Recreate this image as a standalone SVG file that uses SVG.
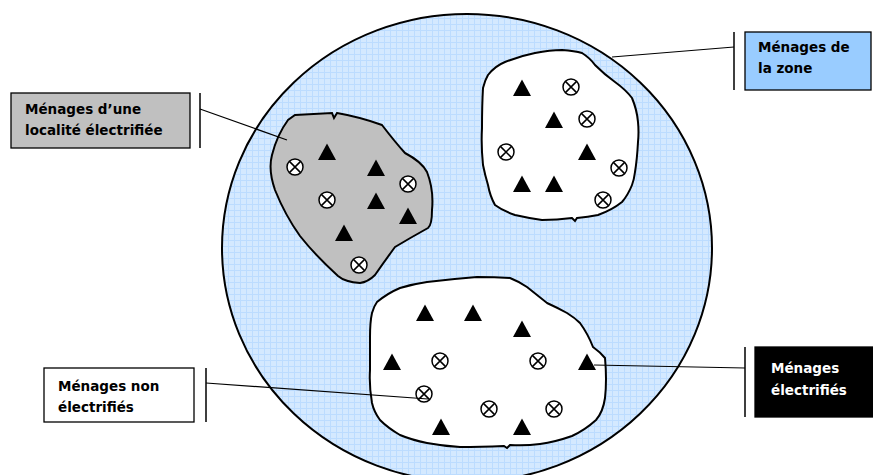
<svg xmlns="http://www.w3.org/2000/svg" width="873" height="475" viewBox="0 0 873 475">
<style>
.lbl{font-family:"DejaVu Sans","Liberation Sans",sans-serif;font-weight:bold;font-size:13.5px}
.blob{stroke:#000;stroke-width:2}
.bar{stroke:#000;stroke-width:1.5}
.lead{stroke:#000;stroke-width:1.2;fill:none}
.box{stroke:#000;stroke-width:1.3}
</style>
<defs>
<pattern id="grid" width="6" height="6" patternUnits="userSpaceOnUse">
<rect width="6" height="6" fill="#d4e9ff"/>
<path d="M0,0.5H6M0.5,0V6" stroke="#bcdcff" stroke-width="1"/>
</pattern>
<path id="tri" d="M0,-8.5L9,8L-9,8Z" fill="#000"/>
<g id="xc">
<circle r="8" fill="#fff" stroke="#000" stroke-width="1.5"/>
<path d="M-5.6,-5.6L5.6,5.6M5.6,-5.6L-5.6,5.6" stroke="#000" stroke-width="1.5"/>
</g>
</defs>
<rect width="873" height="475" fill="#fff"/>
<g id="zone">
<ellipse cx="467" cy="248" rx="245" ry="234" fill="url(#grid)" stroke="#000" stroke-width="2"/>
</g>
<g id="localite">
<path class="blob" fill="#c0c0c0" d="M295,115 L332,113 L334,118 L337,113 Q360,117 382,125 Q395,142 405,153 Q422,162 427,172 Q434,190 432,210 Q432,225 428,228 Q410,238 395,247 Q384,262 375,275 Q368,282 360,283 Q345,282 338,276 Q315,255 300,236 Q285,215 275,190 Q268,170 272,155 Q277,135 288,120 Z"/>
<use href="#tri" x="327" y="152"/><use href="#tri" x="376" y="168"/><use href="#tri" x="376" y="201"/><use href="#tri" x="408" y="216"/><use href="#tri" x="344" y="233"/>
<use href="#xc" x="295" y="167"/><use href="#xc" x="327" y="200"/><use href="#xc" x="408" y="184"/><use href="#xc" x="359" y="265"/>
</g>
<g id="groupe-haut">
<path class="blob" fill="#fff" d="M488,75 Q495,66 505,62 Q520,56 535,53 Q550,50 562,50 Q575,51 582,53 Q590,58 595,65 Q605,75 615,82 Q626,90 632,98 Q637,110 638,122 Q639,132 638,142 Q637,160 635,172 Q634,180 632,185 Q628,195 622,202 Q612,210 598,215 Q588,217 577,218 L575,221 L572,218 Q557,220 542,220 Q528,218 515,215 Q503,211 495,205 Q490,196 488,185 Q485,175 483,165 Q481,146 482,128 Q482,105 483,88 Q485,80 488,75 Z"/>
<use href="#tri" x="522" y="88"/><use href="#tri" x="554" y="120"/><use href="#tri" x="587" y="152"/><use href="#tri" x="522" y="184"/><use href="#tri" x="554" y="184"/>
<use href="#xc" x="571" y="87"/><use href="#xc" x="587" y="119"/><use href="#xc" x="506" y="152"/><use href="#xc" x="619" y="168"/><use href="#xc" x="603" y="200"/>
</g>
<g id="groupe-bas">
<path class="blob" fill="#fff" d="M377,302 Q388,293 400,288 Q413,284 427,282 Q452,279 477,277 Q495,277 510,278 Q520,282 527,287 Q537,295 547,303 Q558,308 567,313 Q575,318 580,323 Q588,334 593,347 Q600,352 605,358 Q607,380 605,398 Q603,412 596,420 Q585,430 572,436 Q555,442 540,444 Q525,446 510,445 L507,448 L504,446 Q480,447 460,447 Q443,446 427,443 Q412,440 400,435 Q388,428 380,420 Q374,412 372,403 Q369,386 370,370 Q370,352 370,337 Q370,322 372,313 Q374,306 377,302 Z"/>
<use href="#tri" x="425" y="313"/><use href="#tri" x="473" y="313"/><use href="#tri" x="522" y="329"/><use href="#tri" x="392" y="362"/><use href="#tri" x="587" y="362"/><use href="#tri" x="441" y="427"/><use href="#tri" x="522" y="427"/>
<use href="#xc" x="440" y="361"/><use href="#xc" x="538" y="361"/><use href="#xc" x="424" y="394"/><use href="#xc" x="489" y="409"/><use href="#xc" x="554" y="409"/>
</g>
<g id="connecteurs">
<path class="lead" d="M200,109 L287,140"/>
<path class="lead" d="M734,47 L612,57"/>
<path class="lead" d="M206,383 L428,399"/>
<path class="lead" d="M745,368 L594,365"/>
<path class="bar" d="M200,93V148M734,32V90M206,368V422M745,347V417"/>
</g>
<g id="label-localite">
<rect class="box" x="11" y="93" width="179" height="55" fill="#c0c0c0"/>
<text class="lbl" x="25" y="114">Ménages d’une</text>
<text class="lbl" x="25" y="135">localité électrifiée</text>
</g>
<g id="label-zone">
<rect class="box" x="745" y="32" width="126" height="58" fill="#99ccff"/>
<text class="lbl" x="758" y="52">Ménages de</text>
<text class="lbl" x="758" y="73">la zone</text>
</g>
<g id="label-non">
<rect class="box" x="44" y="368" width="150" height="54" fill="#fff"/>
<text class="lbl" x="58" y="391">Ménages non</text>
<text class="lbl" x="58" y="412">électrifiés</text>
</g>
<g id="label-elec">
<rect class="box" x="755" y="347" width="118" height="70" fill="#000"/>
<text class="lbl" x="771" y="373" fill="#fff">Ménages</text>
<text class="lbl" x="771" y="395" fill="#fff">électrifiés</text>
</g>
</svg>
